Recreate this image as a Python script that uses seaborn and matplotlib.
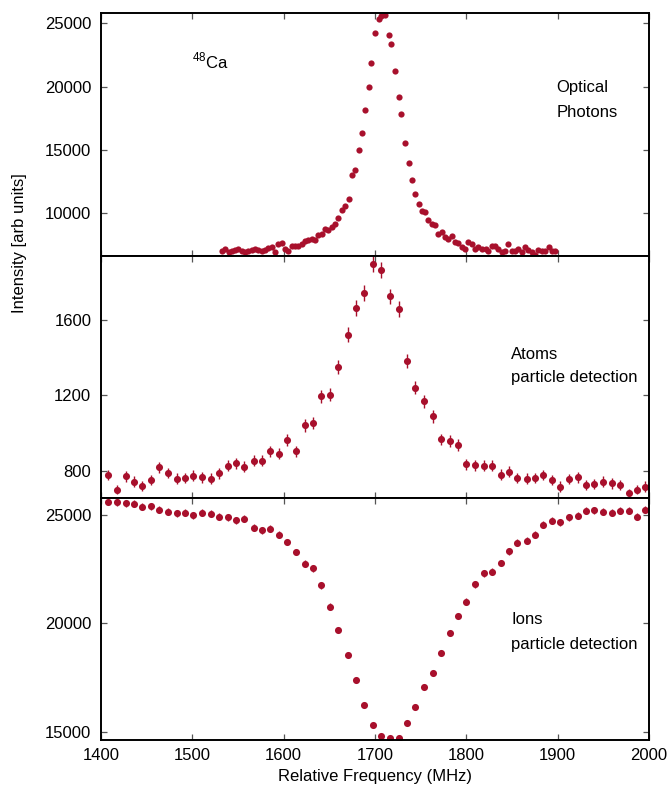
import matplotlib
matplotlib.use('Agg')
import matplotlib.pyplot as plt
import seaborn as sns
import pandas as pd

# 48Ca resonance scan: optical photons, atoms and ions vs. relative frequency
photon_freq = [1532, 1536, 1540, 1543, 1547, 1550, 1554, 1558, 1561, 1565,
               1569, 1572, 1576, 1580, 1583, 1587, 1591, 1594, 1598, 1602,
               1605, 1609, 1612, 1616, 1620, 1623, 1627, 1631, 1634, 1638,
               1642, 1645, 1649, 1653, 1656, 1660, 1664, 1667, 1671, 1675,
               1678, 1682, 1686, 1689, 1693, 1696, 1700, 1704, 1707, 1711,
               1715, 1718, 1722, 1726, 1729, 1733, 1737, 1740, 1744, 1748,
               1751, 1755, 1758, 1762, 1766, 1769, 1773, 1777, 1780, 1784,
               1788, 1791, 1795, 1799, 1802, 1806, 1810, 1813, 1817, 1821,
               1824, 1828, 1831, 1835, 1839, 1842, 1846, 1850, 1853, 1857,
               1861, 1864, 1868, 1872, 1875, 1879, 1883, 1886, 1890, 1894,
               1897]
photon_counts = [7010, 7143, 6930, 7010, 7063, 7116, 7010, 6877, 6957, 7063,
                 7169, 7090, 6984, 7090, 7196, 7328, 6877, 7540, 7645, 7169,
                 7010, 7407, 7381, 7354, 7540, 7778, 7883, 7909, 7856, 8279,
                 8335, 8700, 8676, 8914, 9128, 9604, 10238, 10579, 11078, 13013,
                 13434, 14980, 16312, 18168, 19960, 21880, 24242, 25384, 25567, 25646,
                 24115, 23401, 21205, 19190, 17860, 15519, 13933, 12617, 11507, 10714,
                 10127, 10048, 9445, 9128, 9048, 8335, 8462, 8065, 7938, 8200,
                 7669, 7590, 7272, 7145, 7669, 7540, 7145, 7272, 7145, 7145,
                 7010, 7407, 7407, 7145, 6930, 6957, 7540, 6957, 7010, 7145,
                 6877, 7272, 7063, 6877, 6693, 7090, 7010, 6957, 7272, 7010,
                 6957]

particle_freq = [1408, 1417, 1427, 1436, 1445, 1455, 1464, 1473, 1483, 1492,
                 1501, 1511, 1520, 1529, 1539, 1548, 1557, 1567, 1576, 1585,
                 1595, 1604, 1613, 1623, 1632, 1641, 1651, 1660, 1670, 1679,
                 1688, 1698, 1707, 1716, 1726, 1735, 1744, 1754, 1763, 1772,
                 1782, 1791, 1800, 1810, 1819, 1828, 1838, 1847, 1856, 1866,
                 1875, 1884, 1894, 1903, 1912, 1922, 1931, 1940, 1950, 1959,
                 1968, 1978, 1987, 1996]
atom_counts = [777, 701, 770, 743, 720, 752, 818, 788, 759, 762,
               775, 765, 759, 786, 828, 841, 821, 854, 854, 904,
               890, 964, 904, 1040, 1054, 1194, 1204, 1349, 1520, 1662,
               1743, 1895, 1864, 1723, 1657, 1383, 1240, 1167, 1088, 966,
               959, 936, 835, 830, 826, 826, 780, 795, 763, 759,
               761, 779, 751, 717, 756, 765, 727, 731, 743, 733,
               724, 680, 701, 717]
atom_err = [28, 26, 28, 27, 27, 27, 29, 28, 28, 28,
            28, 28, 28, 28, 29, 29, 29, 29, 29, 30,
            30, 31, 30, 32, 32, 35, 35, 37, 39, 41,
            42, 44, 43, 42, 41, 37, 35, 34, 33, 31,
            31, 31, 29, 29, 29, 29, 28, 28, 28, 28,
            28, 28, 27, 27, 27, 28, 27, 27, 27, 27,
            27, 26, 26, 27]
ion_counts = [25614, 25584, 25538, 25522, 25383, 25398, 25230, 25152, 25075, 25090,
              24984, 25106, 25044, 24906, 24891, 24752, 24814, 24413, 24289, 24367,
              24090, 23751, 23289, 22750, 22533, 21748, 20778, 19687, 18546, 17392,
              16252, 15301, 14804, 14712, 14742, 15436, 16142, 17080, 17727, 18637,
              19575, 20333, 21007, 21793, 22301, 22379, 22781, 23317, 23720, 23813,
              24090, 24538, 24722, 24660, 24891, 24956, 25187, 25214, 25152, 25090,
              25187, 25187, 24922, 25245]
ion_err = [160, 160, 160, 160, 159, 159, 159, 159, 158, 158,
           158, 158, 158, 158, 158, 157, 158, 156, 156, 156,
           155, 154, 153, 151, 150, 147, 144, 140, 136, 132,
           127, 124, 122, 121, 121, 124, 127, 131, 133, 137,
           140, 143, 145, 148, 149, 150, 151, 153, 154, 154,
           155, 157, 157, 157, 158, 158, 159, 159, 159, 158,
           159, 159, 158, 159]

xticks = [1400, 1500, 1600, 1700, 1800, 1900, 2000]
photon_ticks = [10000, 15000, 20000, 25000]
atom_ticks = [800, 1200, 1600]
ion_ticks = [15000, 20000, 25000]

sns.set_theme(style='ticks')
plt.rcParams['font.family'] = ['Liberation Sans', 'DejaVu Sans']
plt.rcParams['mathtext.fontset'] = 'custom'
plt.rcParams['mathtext.rm'] = 'Liberation Sans'
plt.rcParams['font.size'] = 12
plt.rcParams['text.color'] = 'black'
plt.rcParams['xtick.labelcolor'] = 'black'
plt.rcParams['ytick.labelcolor'] = 'black'

red = '#a8102c'
fs = 12

df_ph = pd.DataFrame({'freq': photon_freq, 'counts': photon_counts})
df_at = pd.DataFrame({'freq': particle_freq, 'counts': atom_counts, 'err': atom_err})
df_io = pd.DataFrame({'freq': particle_freq, 'counts': ion_counts, 'err': ion_err})

fig, axes = plt.subplots(3, 1, figsize=(6.67, 7.94), dpi=100, sharex=True)
fig.subplots_adjust(left=0.1514, right=0.973, top=0.983, bottom=0.068, hspace=0)
ax1, ax2, ax3 = axes

sns.scatterplot(data=df_ph, x='freq', y='counts', ax=ax1, color=red, s=20,
                linewidth=0, legend=False)

for ax, df in [(ax2, df_at), (ax3, df_io)]:
    ax.errorbar(df['freq'], df['counts'], yerr=df['err'], fmt='none',
                ecolor=red, elinewidth=1.0, capsize=0)
    sns.scatterplot(data=df, x='freq', y='counts', ax=ax, color=red, s=26,
                    linewidth=0, legend=False)

ax1.set_ylim(6614, 25790)
ax2.set_ylim(657, 1939)
ax3.set_ylim(14630, 25783)
ax1.set_yticks(photon_ticks)
ax2.set_yticks(atom_ticks)
ax3.set_yticks(ion_ticks)

for ax in axes:
    ax.set_xlim(1400, 2000)
    ax.set_xticks(xticks)
    ax.set_xlabel('')
    ax.set_ylabel('')
    ax.tick_params(direction='in', top=True, right=True, length=4.5, width=0.9,
                   color='#555555', labelcolor='black', labelsize=fs, pad=7)
    for sp in ax.spines.values():
        sp.set_linewidth(1.4)
        sp.set_color('black')
ax3.tick_params(axis='x', pad=6)

# annotations
ax1.text(1500, 21450, r'$^{48}$Ca', fontsize=fs, va='baseline', ha='left')
ax1.text(1899, 19550, 'Optical', fontsize=fs, va='baseline', ha='left')
ax1.text(1899, 17570, 'Photons', fontsize=fs, va='baseline', ha='left')
ax2.text(1849, 1394, 'Atoms', fontsize=fs, va='baseline', ha='left')
ax2.text(1849, 1272, 'particle detection', fontsize=fs, va='baseline', ha='left')
ax3.text(1849, 19978, 'Ions', fontsize=fs, va='baseline', ha='left')
ax3.text(1849, 18823, 'particle detection', fontsize=fs, va='baseline', ha='left')

fig.text(0.029, 0.694, 'Intensity [arb units]', rotation=90, ha='center',
         va='center', fontsize=fs)
fig.text(0.562, 0.022, 'Relative Frequency (MHz)', ha='center', va='center',
         fontsize=fs)

fig.savefig('out.png', dpi=100)
